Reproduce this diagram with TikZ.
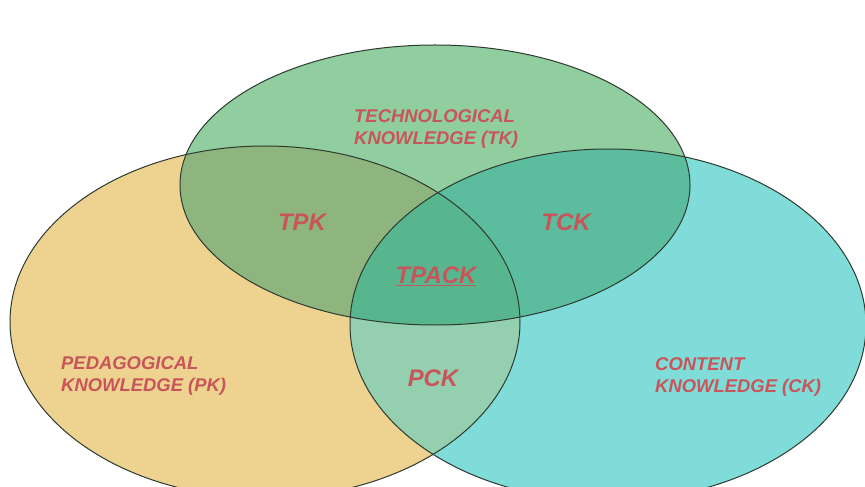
\documentclass[tikz,border=0pt]{standalone}
\usepackage{fontspec}
\setmainfont{Liberation Sans}
\definecolor{techG}{HTML}{90CD9F}
\definecolor{pedO}{HTML}{EDD290}
\definecolor{contC}{HTML}{80DCD8}
\definecolor{tpkC}{HTML}{8FB57E}
\definecolor{tckC}{HTML}{5BBC9E}
\definecolor{pckC}{HTML}{94CFB0}
\definecolor{tpackC}{HTML}{58B68F}
\definecolor{labelR}{HTML}{C8555A}
\definecolor{rimC}{HTML}{2E3A30}
\tikzset{
  rim/.style={draw=rimC, line width=1bp},
  bigtext/.style={text=labelR, font=\fontsize{18.5}{22}\selectfont\bfseries\itshape, align=left, inner sep=0pt},
  midtext/.style={text=labelR, font=\fontsize{24}{26}\selectfont\bfseries\itshape, inner sep=0pt},
}
\begin{document}
\begin{tikzpicture}[x=1bp,y=-1bp]
\useasboundingbox (0,0) rectangle (865,487);
\fill[white] (0,0) rectangle (865,487);
% base circles
\fill[pedO]  (265,322) ellipse [x radius=255, y radius=176];
\fill[contC] (608,325) ellipse [x radius=258, y radius=176];
\fill[techG] (435,185) ellipse [x radius=255, y radius=140];
% pairwise overlaps
\begin{scope}
  \clip (265,322) ellipse [x radius=255, y radius=176];
  \fill[tpkC] (435,185) ellipse [x radius=255, y radius=140];
  \fill[pckC] (608,325) ellipse [x radius=258, y radius=176];
\end{scope}
\begin{scope}
  \clip (608,325) ellipse [x radius=258, y radius=176];
  \fill[tckC] (435,185) ellipse [x radius=255, y radius=140];
\end{scope}
% triple overlap
\begin{scope}
  \clip (265,322) ellipse [x radius=255, y radius=176];
  \clip (608,325) ellipse [x radius=258, y radius=176];
  \fill[tpackC] (435,185) ellipse [x radius=255, y radius=140];
\end{scope}
% outlines
\draw[rim] (265,322) ellipse [x radius=255, y radius=176];
\draw[rim] (608,325) ellipse [x radius=258, y radius=176];
\draw[rim] (435,185) ellipse [x radius=255, y radius=140];
% labels
\node[bigtext, anchor=west] (tk) at (354,129) {TECHNOLOGICAL\\KNOWLEDGE (TK)};
\node[bigtext, anchor=west] (pk) at (61,376) {PEDAGOGICAL\\KNOWLEDGE (PK)};
\node[bigtext, anchor=west] (ck) at (655,377) {CONTENT\\KNOWLEDGE (CK)};
\node[midtext] (tpk) at (302,222) {TPK};
\node[midtext] (tck) at (566,222) {TCK};
\node[midtext] (pck) at (433,378) {PCK};
\node[midtext] (tpack) at (436,276) {\underline{TPACK}};
\end{tikzpicture}
\end{document}
